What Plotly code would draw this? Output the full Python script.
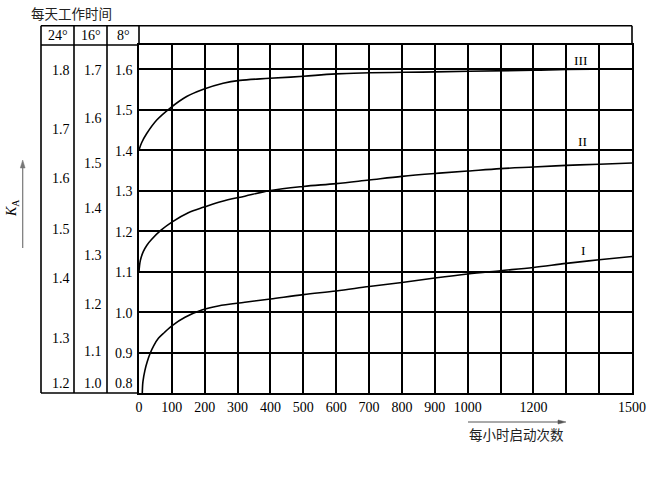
import plotly.graph_objects as go

# ---------------- data ----------------
starts_per_hour = list(range(0, 1600, 100))
x_tick_vals = [0, 100, 200, 300, 400, 500, 600, 700, 800, 900, 1000, 1200, 1500]
x_tick_text = ["0", "100", "200", "300", "400", "500", "600", "700", "800",
               "900", "1000", "1200", "1500"]

curve_I_x = [10, 12, 18, 25, 34, 45, 59, 78, 100, 140, 191, 241, 322, 400,
             500, 600, 700, 800, 900, 1000, 1100, 1200, 1300, 1400, 1500]
curve_I_y = [0.80, 0.828, 0.856, 0.877, 0.898, 0.917, 0.935, 0.950, 0.966,
             0.987, 1.005, 1.015, 1.024, 1.032, 1.043, 1.052, 1.063, 1.073,
             1.084, 1.094, 1.102, 1.110, 1.120, 1.129, 1.137]

curve_II_x = [0, 4, 13, 24, 38, 67, 100, 150, 198, 251, 322, 400, 500, 600,
              700, 800, 900, 1000, 1100, 1200, 1300, 1400, 1500]
curve_II_y = [1.10, 1.127, 1.149, 1.165, 1.179, 1.202, 1.222, 1.245, 1.259,
              1.273, 1.286, 1.300, 1.310, 1.317, 1.326, 1.335, 1.342, 1.348,
              1.354, 1.358, 1.362, 1.365, 1.368]

curve_III_x = [0, 8, 23, 54, 94, 145, 196, 256, 307, 398, 500, 600, 900,
               1200, 1300, 1500]
curve_III_y = [1.40, 1.418, 1.44, 1.474, 1.503, 1.532, 1.55, 1.565, 1.572,
               1.577, 1.582, 1.588, 1.593, 1.597, 1.599, 1.600]

curve_names = ["I", "II", "III"]
curve_label_x = [1351, 1348, 1345]
curve_label_y = [1.153, 1.42, 1.62]

# K_A scales for each daily working time (label, equivalent position on 8° scale)
hours_headers = ["24°", "16°", "8°"]
scale_8_labels = ["0.8", "0.9", "1.0", "1.1", "1.2", "1.3", "1.4", "1.5", "1.6"]
scale_8_pos = [0.8, 0.9, 1.0, 1.1, 1.2, 1.3, 1.4, 1.5, 1.6]
scale_16_labels = ["1.0", "1.1", "1.2", "1.3", "1.4", "1.5", "1.6", "1.7"]
scale_16_pos = [0.8, 0.906, 1.022, 1.141, 1.259, 1.368, 1.481, 1.6]
scale_24_labels = ["1.2", "1.3", "1.4", "1.5", "1.6", "1.7", "1.8"]
scale_24_pos = [0.8, 0.938, 1.086, 1.205, 1.331, 1.454, 1.6]

# ---------------- layout geometry ----------------
W, H = 650, 485
L, R, T, B = 139, 632, 45, 393
Y0 = 0.8
YTOP = Y0 + (B - T) / 405.0


def px(x):
    return (x - L) / (R - L)


def py(y):
    return (B - y) / (B - T)


SERIF = "Liberation Serif"
CJK = "Noto Sans CJK SC"
LW = 1.6
FS = 14

fig = go.Figure()
for cx, cy in [(curve_I_x, curve_I_y), (curve_II_x, curve_II_y),
               (curve_III_x, curve_III_y)]:
    fig.add_trace(go.Scatter(x=cx, y=cy, mode="lines",
                             line=dict(color="black", width=1.6,
                                       shape="spline", smoothing=1.0),
                             hoverinfo="skip", showlegend=False))

annotations = []
for name, lx, ly in zip(curve_names, curve_label_x, curve_label_y):
    annotations.append(dict(x=lx, y=ly, xref="x", yref="y", text=name,
                            showarrow=False, xanchor="center", yanchor="middle",
                            font=dict(family=SERIF, size=13.5, color="black")))

# scale columns
cols = [(scale_24_labels, scale_24_pos, 71.5),
        (scale_16_labels, scale_16_pos, 103.5),
        (scale_8_labels, scale_8_pos, 135)]
for labels, pos, xr in cols:
    for lab, p in zip(labels, pos):
        bottom = p <= Y0 + 1e-9
        annotations.append(dict(x=px(xr), y=p, xref="paper", yref="y",
                                text=lab, showarrow=False, xanchor="right",
                                yanchor="bottom" if bottom else "middle",
                                yshift=0 if bottom else -1,
                                font=dict(family=SERIF, size=FS, color="black")))

# header texts
for txt, cx in zip(hours_headers, [57.5, 90.5, 123]):
    annotations.append(dict(x=px(cx), y=py(35.5), xref="paper", yref="paper",
                            text=txt, showarrow=False, xanchor="center",
                            yanchor="middle",
                            font=dict(family=SERIF, size=FS, color="black")))

# title
annotations.append(dict(x=px(29), y=py(13), xref="paper", yref="paper",
                        text="每天工作时间", showarrow=False, xanchor="left",
                        yanchor="middle",
                        font=dict(family=CJK, size=13.5, color="#222")))

# K_A label
annotations.append(dict(x=px(13), y=py(208), xref="paper", yref="paper",
                        text="<i>K</i><sub>A</sub>", textangle=-90,
                        showarrow=False, xanchor="center", yanchor="middle",
                        font=dict(family=SERIF, size=14, color="black")))

# x axis title
annotations.append(dict(x=px(516.5), y=py(434), xref="paper", yref="paper",
                        text="每小时启动次数", showarrow=False,
                        xanchor="center", yanchor="middle",
                        font=dict(family=CJK, size=13.5, color="#222")))

shapes = []


def seg(x0, y0, x1, y1, color="black", width=LW):
    shapes.append(dict(type="line", xref="paper", yref="paper",
                       x0=px(x0), y0=py(y0), x1=px(x1), y1=py(y1),
                       line=dict(color=color, width=width)))


def tri(points, color):
    d = "M " + " L ".join(f"{px(a):.5f},{py(b):.5f}" for a, b in points) + " Z"
    shapes.append(dict(type="path", xref="paper", yref="paper", path=d,
                       fillcolor=color, line=dict(color=color, width=0.5)))


HT = 25.7
for vx in [41, 74, 107]:
    seg(vx, HT, vx, B)
seg(L, HT, L, T)
seg(R, HT, R, T)
seg(41, HT, R, HT)
seg(41, T, L, T)
seg(41, B, L, B)

# K_A arrow (pointing up)
seg(22.7, 248, 22.7, 166, color="#777", width=1.2)
tri([(22.7, 160), (20.3, 168), (25.1, 168)], "#777")
# x-title arrow (pointing right)
seg(468, 422, 560, 422, color="#555", width=1.0)
tri([(566, 422), (558, 420), (558, 424)], "#555")

fig.update_layout(
    width=W, height=H, autosize=False,
    margin=dict(l=L, r=W - R, t=T, b=H - B, pad=0, autoexpand=False),
    paper_bgcolor="white", plot_bgcolor="white",
    showlegend=False,
    xaxis=dict(range=[0, 1500], tickmode="array", tickvals=x_tick_vals,
               ticktext=x_tick_text, showgrid=True, gridcolor="black",
               gridwidth=LW, zeroline=False, showline=True, linecolor="black",
               linewidth=LW, mirror=True, ticks="",
               minor=dict(tickmode="array", tickvals=starts_per_hour,
                          showgrid=True, gridcolor="black", gridwidth=LW,
                          ticks=""),
               tickfont=dict(family=SERIF, size=FS, color="black"),
               fixedrange=True),
    yaxis=dict(range=[Y0, YTOP], tickmode="array", tickvals=scale_8_pos,
               showticklabels=False, showgrid=True, gridcolor="black",
               gridwidth=LW, zeroline=False, showline=True, linecolor="black",
               linewidth=LW, mirror=True, ticks="", fixedrange=True),
    annotations=annotations,
    shapes=shapes,
)

fig.write_html("out.html", config={"displayModeBar": False},
               post_script="document.body.style.margin='0';"
                           "document.body.style.overflow='hidden';")
